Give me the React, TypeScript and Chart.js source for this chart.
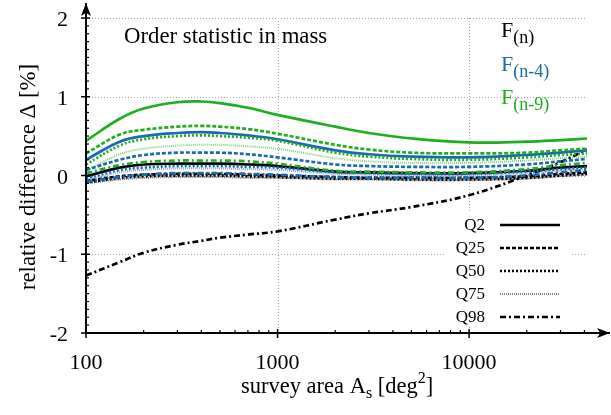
import { useEffect, useRef } from "react";
import { Chart, registerables } from "chart.js";

Chart.register(...registerables);

// Survey area in deg^2 (up to full sky)
const AREAS = [100, 150, 200, 300, 400, 500, 700, 1000, 2000, 3000, 5000, 10000, 20000, 30000, 41253];

// F_(n)
const BLACK_Q2 = [-0.01, 0.1, 0.14, 0.15, 0.15, 0.15, 0.14, 0.12, 0.05, 0.04, 0.03, 0.03, 0.06, 0.1, 0.12];
const BLACK_Q25 = [-0.07, -0.01, 0.01, 0.02, 0.02, 0.02, 0.01, 0.0, -0.02, -0.03, -0.03, -0.03, -0.01, 0.02, 0.04];
const BLACK_Q50 = [-0.09, -0.03, -0.01, 0.0, 0.0, 0.0, -0.01, -0.02, -0.04, -0.04, -0.05, -0.05, -0.03, 0.0, 0.02];
const BLACK_Q75 = [-0.1, -0.05, -0.03, -0.02, -0.02, -0.02, -0.03, -0.03, -0.05, -0.05, -0.06, -0.06, -0.04, -0.01, 0.01];
const BLACK_Q98 = [-1.27, -1.1, -0.98, -0.88, -0.83, -0.79, -0.75, -0.71, -0.56, -0.48, -0.4, -0.25, 0.0, 0.17, 0.33];

// F_(n-4)
const BLUE_Q2 = [0.2, 0.43, 0.5, 0.54, 0.55, 0.54, 0.51, 0.46, 0.32, 0.27, 0.24, 0.23, 0.26, 0.29, 0.32];
const BLUE_Q25 = [0.07, 0.2, 0.26, 0.29, 0.29, 0.29, 0.27, 0.23, 0.14, 0.12, 0.11, 0.11, 0.14, 0.18, 0.21];
const BLUE_Q50 = [-0.04, 0.07, 0.1, 0.12, 0.12, 0.12, 0.11, 0.1, 0.04, 0.03, 0.02, 0.02, 0.05, 0.08, 0.1];
const BLUE_Q75 = [-0.06, 0.04, 0.07, 0.09, 0.09, 0.09, 0.08, 0.07, 0.02, 0.01, 0.0, 0.0, 0.03, 0.06, 0.08];
const BLUE_Q98 = [-0.08, -0.02, 0.01, 0.03, 0.03, 0.03, 0.02, 0.01, -0.02, -0.03, -0.03, -0.03, 0.0, 0.04, 0.07];

// F_(n-9)
const GREEN_Q2 = [0.44, 0.72, 0.85, 0.93, 0.94, 0.92, 0.86, 0.77, 0.62, 0.54, 0.47, 0.42, 0.43, 0.45, 0.47];
const GREEN_Q25 = [0.28, 0.52, 0.58, 0.62, 0.63, 0.62, 0.59, 0.53, 0.39, 0.33, 0.29, 0.28, 0.29, 0.32, 0.34];
const GREEN_Q50 = [0.14, 0.38, 0.46, 0.5, 0.51, 0.5, 0.48, 0.44, 0.29, 0.24, 0.21, 0.2, 0.23, 0.26, 0.28];
const GREEN_Q75 = [0.06, 0.27, 0.34, 0.38, 0.39, 0.39, 0.37, 0.34, 0.22, 0.18, 0.16, 0.16, 0.19, 0.22, 0.24];
const GREEN_Q98 = [0.03, 0.13, 0.17, 0.19, 0.19, 0.19, 0.18, 0.15, 0.06, 0.05, 0.04, 0.04, 0.08, 0.13, 0.16];

const QUANTILES = ["Q2", "Q25", "Q50", "Q75", "Q98"];
const X_TICKS = [100, 1000, 10000];
const X_MINOR = [200, 300, 400, 500, 600, 700, 800, 900, 2000, 3000, 4000, 5000, 6000, 7000, 8000, 9000, 20000, 30000, 40000];
const Y_TICKS = [-2, -1, 0, 1, 2];

const BLACK = "#000000";
const BLUE = "#1b68b3";
const GREEN = "#1fae1f";
const SERIF = "'Liberation Serif', 'DejaVu Serif', serif";

const DASHES: number[][] = [[], [4, 2], [2, 2], [1, 1], [6, 3, 2, 3]];

const FAMILIES = [
  { name: "(n-9)", color: GREEN, series: [GREEN_Q2, GREEN_Q25, GREEN_Q50, GREEN_Q75, GREEN_Q98] },
  { name: "(n-4)", color: BLUE, series: [BLUE_Q2, BLUE_Q25, BLUE_Q50, BLUE_Q75, BLUE_Q98] },
  { name: "(n)", color: BLACK, series: [BLACK_Q2, BLACK_Q25, BLACK_Q50, BLACK_Q75, BLACK_Q98] },
];

function withAlpha(hex: string, a: number) {
  const r = parseInt(hex.slice(1, 3), 16);
  const g = parseInt(hex.slice(3, 5), 16);
  const b = parseInt(hex.slice(5, 7), 16);
  return `rgba(${r},${g},${b},${a})`;
}

function buildDatasets() {
  const sets: any[] = [];
  FAMILIES.forEach((fam) => {
    fam.series.forEach((vals, qi) => {
      sets.push({
        label: `F${fam.name} ${QUANTILES[qi]}`,
        data: AREAS.map((a, i) => ({ x: a, y: vals[i] })),
        borderColor: qi === 3 ? withAlpha(fam.color, 0.55) : fam.color,
        borderWidth: qi === 3 ? 2 : 2.7,
        borderDash: DASHES[qi],
        pointRadius: 0,
        fill: false,
        tension: 0.4,
      });
    });
  });
  return sets;
}

function drawArrowLine(ctx: CanvasRenderingContext2D, x1: number, y1: number, x2: number, y2: number) {
  ctx.beginPath();
  ctx.moveTo(x1, y1);
  ctx.lineTo(x2, y2);
  ctx.stroke();
  const ang = Math.atan2(y2 - y1, x2 - x1);
  const len = 13;
  const half = 5;
  ctx.beginPath();
  ctx.moveTo(x2, y2);
  ctx.lineTo(x2 - len * Math.cos(ang) + half * Math.sin(ang), y2 - len * Math.sin(ang) - half * Math.cos(ang));
  ctx.lineTo(x2 - len * 0.75 * Math.cos(ang), y2 - len * 0.75 * Math.sin(ang));
  ctx.lineTo(x2 - len * Math.cos(ang) - half * Math.sin(ang), y2 - len * Math.sin(ang) + half * Math.cos(ang));
  ctx.closePath();
  ctx.fill();
}

const decorations = {
  id: "decorations",
  beforeDraw(chart: any) {
    const { ctx, width, height } = chart;
    ctx.save();
    ctx.fillStyle = "#ffffff";
    ctx.fillRect(0, 0, width, height);
    ctx.restore();
  },
  beforeDatasetsDraw(chart: any) {
    const { ctx, chartArea, scales } = chart;
    const { left, right, top, bottom } = chartArea;
    ctx.save();
    ctx.strokeStyle = "#a8a8a8";
    ctx.lineWidth = 1;
    ctx.setLineDash([1, 2]);
    Y_TICKS.forEach((v) => {
      if (v === -2) return;
      const py = Math.round(scales.y.getPixelForValue(v)) + 0.5;
      ctx.beginPath();
      ctx.moveTo(left, py);
      ctx.lineTo(right, py);
      ctx.stroke();
    });
    X_TICKS.forEach((v) => {
      if (v === 100) return;
      const px = Math.round(scales.x.getPixelForValue(v)) + 0.5;
      ctx.beginPath();
      ctx.moveTo(px, top);
      ctx.lineTo(px, bottom);
      ctx.stroke();
    });
    ctx.restore();
  },
  afterDatasetsDraw(chart: any) {
    const { ctx, chartArea, scales, width } = chart;
    const { left, bottom } = chartArea;
    ctx.save();

    // axes with arrow heads
    ctx.strokeStyle = "#000";
    ctx.fillStyle = "#000";
    ctx.lineWidth = 2;
    ctx.setLineDash([]);
    drawArrowLine(ctx, left, bottom + 1, left, 3);
    drawArrowLine(ctx, left - 1, bottom, width - 1, bottom);

    // tick marks
    ctx.lineWidth = 1.5;
    Y_TICKS.forEach((v) => {
      const py = scales.y.getPixelForValue(v);
      ctx.beginPath();
      ctx.moveTo(left - 5, py);
      ctx.lineTo(left + 4, py);
      ctx.stroke();
    });
    ctx.lineWidth = 1.2;
    for (let k = -19; k <= 19; k++) {
      if (k % 10 === 0) continue;
      const py = scales.y.getPixelForValue(k / 10);
      ctx.beginPath();
      ctx.moveTo(left, py);
      ctx.lineTo(left + 3, py);
      ctx.stroke();
    }
    ctx.lineWidth = 1.5;
    X_TICKS.forEach((v) => {
      const px = scales.x.getPixelForValue(v);
      ctx.beginPath();
      ctx.moveTo(px, bottom - 4);
      ctx.lineTo(px, bottom + 5);
      ctx.stroke();
    });
    ctx.lineWidth = 1.2;
    X_MINOR.forEach((v) => {
      const px = scales.x.getPixelForValue(v);
      ctx.beginPath();
      ctx.moveTo(px, bottom - 3);
      ctx.lineTo(px, bottom);
      ctx.stroke();
    });

    // tick labels
    ctx.fillStyle = "#000";
    ctx.font = `22px ${SERIF}`;
    ctx.textBaseline = "alphabetic";
    ctx.textAlign = "right";
    Y_TICKS.forEach((v) => {
      const py = scales.y.getPixelForValue(v);
      ctx.fillText(String(v), 68, py + 8);
    });
    ctx.textAlign = "center";
    X_TICKS.forEach((v) => {
      const px = scales.x.getPixelForValue(v);
      ctx.fillText(String(v), px, 369);
    });

    // panel title
    ctx.textAlign = "left";
    ctx.font = `22.8px ${SERIF}`;
    ctx.fillText("Order statistic in mass", 124, 43);

    // family labels F_(n), F_(n-4), F_(n-9)
    const famOrder = [FAMILIES[2], FAMILIES[1], FAMILIES[0]];
    const baselines = [37, 71, 104];
    famOrder.forEach((fam, i) => {
      ctx.fillStyle = fam.color;
      ctx.font = `22px ${SERIF}`;
      ctx.fillText("F", 501, baselines[i]);
      const fw = ctx.measureText("F").width;
      ctx.font = `18px ${SERIF}`;
      ctx.fillText(fam.name, 501 + fw, baselines[i] + 6);
    });

    // quantile legend
    const lx0 = 445;
    const ly0 = 213;
    ctx.fillStyle = "#ffffff";
    ctx.fillRect(lx0, ly0, 127, 114);
    ctx.font = `17px ${SERIF}`;
    ctx.textAlign = "right";
    ctx.textBaseline = "middle";
    QUANTILES.forEach((q, i) => {
      const yy = 225 + i * 23;
      ctx.fillStyle = "#000";
      ctx.fillText(q, 485, yy + 1);
      ctx.strokeStyle = i === 3 ? "rgba(0,0,0,0.5)" : "#000";
      ctx.lineWidth = i === 3 ? 2 : 2.5;
      ctx.setLineDash(DASHES[i]);
      ctx.beginPath();
      ctx.moveTo(500, yy);
      ctx.lineTo(560, yy);
      ctx.stroke();
    });
    ctx.setLineDash([]);

    // axis titles
    ctx.fillStyle = "#000";
    ctx.textAlign = "left";
    ctx.textBaseline = "alphabetic";
    let cx = 241;
    const by = 393;
    const parts: [string, number, number][] = [
      ["survey area A", 22.5, 0],
      ["s", 16, 5],
      [" [deg", 22.5, 0],
      ["2", 16, -10],
      ["]", 22.5, 0],
    ];
    parts.forEach(([t, s, dy]) => {
      ctx.font = `${s}px ${SERIF}`;
      ctx.fillText(t, cx, by + dy);
      cx += ctx.measureText(t).width;
    });

    ctx.translate(35, 177);
    ctx.rotate(-Math.PI / 2);
    ctx.textAlign = "center";
    ctx.font = `22.8px ${SERIF}`;
    ctx.fillText("relative difference \u0394 [%]", 0, 0);

    ctx.restore();
  },
};

export default function App() {
  const canvasRef = useRef<HTMLCanvasElement | null>(null);

  useEffect(() => {
    const canvas = canvasRef.current;
    if (!canvas) return;
    const chart = new Chart(canvas, {
      type: "line",
      data: { datasets: buildDatasets() },
      options: {
        animation: false,
        responsive: false,
        devicePixelRatio: 1,
        layout: { padding: { top: 18, right: 24, left: 0, bottom: 0 } },
        plugins: {
          legend: { display: false },
          tooltip: { enabled: false },
        },
        scales: {
          x: {
            type: "logarithmic",
            min: 100,
            max: 41253,
            bounds: "data",
            offset: false,
            grid: { display: false, drawTicks: false },
            border: { display: false },
            afterFit: (scale: any) => {
              scale.height = 82;
            },
            ticks: { display: false },
          },
          y: {
            type: "linear",
            min: -2,
            max: 2,
            grid: { display: false, drawTicks: false },
            border: { display: false },
            afterFit: (scale: any) => {
              scale.width = 86;
            },
            ticks: { display: false },
          },
        },
      },
      plugins: [decorations],
    } as any);
    return () => chart.destroy();
  }, []);

  return (
    <div style={{ position: "absolute", left: 0, top: 0, width: 611, height: 415 }}>
      <canvas ref={canvasRef} width={611} height={415} style={{ display: "block" }} />
    </div>
  );
}
